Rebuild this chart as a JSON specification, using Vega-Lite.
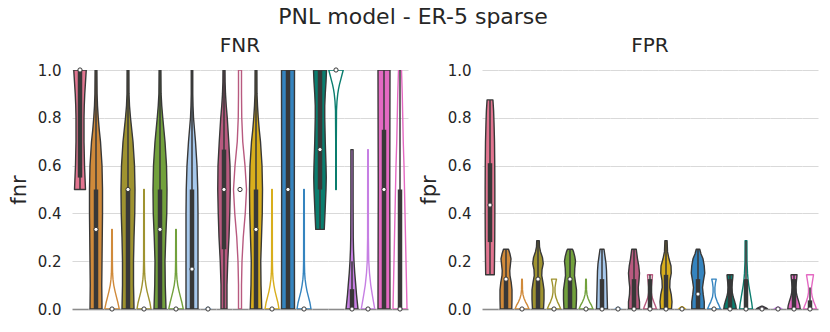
{
  "$schema": "https://vega.github.io/schema/vega-lite/v6.json",
  "padding": {"left": 8, "right": 5, "top": 6, "bottom": 5},
  "title": {"text": "PNL model - ER-5 sparse", "fontSize": 22, "fontWeight": "normal", "color": "#262626", "font": "DejaVu Sans", "offset": 7, "anchor": "middle"},
  "config": {"font": "DejaVu Sans", "view": {"stroke": null}},
  "spacing": 10,
  "datasets": {
    "d": [
      {"p":"FNR","s":"M00a","k":"z","v":-1,"w":1.6},{"p":"FNR","s":"M01a","k":"z","v":-1,"w":1.6},{"p":"FNR","s":"M01b","k":"z","v":-1,"w":1.6},{"p":"FNR","s":"M02a","k":"z","v":-1,"w":1.6},{"p":"FNR","s":"M02b","k":"z","v":-1,"w":1.6},{"p":"FNR","s":"M03a","k":"z","v":-1,"w":1.6},{"p":"FNR","s":"M03b","k":"z","v":-1,"w":1.6},{"p":"FNR","s":"M04a","k":"z","v":-1,"w":1.6},{"p":"FNR","s":"M04b","k":"z","v":-1,"w":1.6},{"p":"FNR","s":"M05a","k":"z","v":-1,"w":1.6},{"p":"FNR","s":"M05b","k":"z","v":-1,"w":1.6},{"p":"FNR","s":"M06a","k":"z","v":-1,"w":1.6},{"p":"FNR","s":"M06b","k":"z","v":-1,"w":1.6},{"p":"FNR","s":"M07a","k":"z","v":-1,"w":1.6},{"p":"FNR","s":"M07b","k":"z","v":-1,"w":1.6},{"p":"FNR","s":"M08a","k":"z","v":-1,"w":1.6},{"p":"FNR","s":"M08b","k":"z","v":-1,"w":1.6},{"p":"FNR","s":"M09a","k":"z","v":-1,"w":1.6},{"p":"FNR","s":"M09b","k":"z","v":-1,"w":1.6},{"p":"FNR","s":"M10a","k":"z","v":-1,"w":1.6},{"p":"FNR","s":"M10b","k":"z","v":-1,"w":1.6},
      {"p":"FPR","s":"M00a","k":"z","v":-1,"w":1.6},{"p":"FPR","s":"M01a","k":"z","v":-1,"w":1.6},{"p":"FPR","s":"M01b","k":"z","v":-1,"w":1.6},{"p":"FPR","s":"M02a","k":"z","v":-1,"w":1.6},{"p":"FPR","s":"M02b","k":"z","v":-1,"w":1.6},{"p":"FPR","s":"M03a","k":"z","v":-1,"w":1.6},{"p":"FPR","s":"M03b","k":"z","v":-1,"w":1.6},{"p":"FPR","s":"M04a","k":"z","v":-1,"w":1.6},{"p":"FPR","s":"M04b","k":"z","v":-1,"w":1.6},{"p":"FPR","s":"M05a","k":"z","v":-1,"w":1.6},{"p":"FPR","s":"M05b","k":"z","v":-1,"w":1.6},{"p":"FPR","s":"M06a","k":"z","v":-1,"w":1.6},{"p":"FPR","s":"M06b","k":"z","v":-1,"w":1.6},{"p":"FPR","s":"M07a","k":"z","v":-1,"w":1.6},{"p":"FPR","s":"M07b","k":"z","v":-1,"w":1.6},{"p":"FPR","s":"M08a","k":"z","v":-1,"w":1.6},{"p":"FPR","s":"M08b","k":"z","v":-1,"w":1.6},{"p":"FPR","s":"M09a","k":"z","v":-1,"w":1.6},{"p":"FPR","s":"M09b","k":"z","v":-1,"w":1.6},{"p":"FPR","s":"M10a","k":"z","v":-1,"w":1.6},{"p":"FPR","s":"M10b","k":"z","v":-1,"w":1.6},

      {"p":"FNR","s":"M00a","k":"a","v":0.5,"w":1.1},{"p":"FNR","s":"M00a","k":"a","v":0.55,"w":1.0},{"p":"FNR","s":"M00a","k":"a","v":0.6,"w":0.9},{"p":"FNR","s":"M00a","k":"a","v":0.65,"w":0.85},{"p":"FNR","s":"M00a","k":"a","v":0.7,"w":0.8},{"p":"FNR","s":"M00a","k":"a","v":0.75,"w":0.8},{"p":"FNR","s":"M00a","k":"a","v":0.8,"w":0.8},{"p":"FNR","s":"M00a","k":"a","v":0.85,"w":0.85},{"p":"FNR","s":"M00a","k":"a","v":0.9,"w":0.95},{"p":"FNR","s":"M00a","k":"a","v":0.95,"w":1.1},{"p":"FNR","s":"M00a","k":"a","v":1.0,"w":1.25},
      {"p":"FNR","s":"M01a","k":"a","v":0,"w":1.2},{"p":"FNR","s":"M01a","k":"a","v":0.1,"w":1.15},{"p":"FNR","s":"M01a","k":"a","v":0.2,"w":1.2},{"p":"FNR","s":"M01a","k":"a","v":0.3,"w":1.25},{"p":"FNR","s":"M01a","k":"a","v":0.4,"w":1.3},{"p":"FNR","s":"M01a","k":"a","v":0.5,"w":1.3},{"p":"FNR","s":"M01a","k":"a","v":0.6,"w":1.2},{"p":"FNR","s":"M01a","k":"a","v":0.7,"w":0.9},{"p":"FNR","s":"M01a","k":"a","v":0.75,"w":0.65},{"p":"FNR","s":"M01a","k":"a","v":0.8,"w":0.45},{"p":"FNR","s":"M01a","k":"a","v":0.85,"w":0.3},{"p":"FNR","s":"M01a","k":"a","v":0.9,"w":0.22},{"p":"FNR","s":"M01a","k":"a","v":1,"w":0.18},
      {"p":"FNR","s":"M01b","k":"b","v":0,"w":1.45},{"p":"FNR","s":"M01b","k":"b","v":0.025,"w":1.2},{"p":"FNR","s":"M01b","k":"b","v":0.05,"w":0.9},{"p":"FNR","s":"M01b","k":"b","v":0.075,"w":0.6},{"p":"FNR","s":"M01b","k":"b","v":0.1,"w":0.35},{"p":"FNR","s":"M01b","k":"b","v":0.125,"w":0.2},{"p":"FNR","s":"M01b","k":"b","v":0.15,"w":0.12},{"p":"FNR","s":"M01b","k":"b","v":0.2,"w":0.08},{"p":"FNR","s":"M01b","k":"b","v":0.333,"w":0.06},
      {"p":"FNR","s":"M02a","k":"a","v":0,"w":1.2},{"p":"FNR","s":"M02a","k":"a","v":0.1,"w":1.1},{"p":"FNR","s":"M02a","k":"a","v":0.2,"w":1.1},{"p":"FNR","s":"M02a","k":"a","v":0.3,"w":1.2},{"p":"FNR","s":"M02a","k":"a","v":0.4,"w":1.35},{"p":"FNR","s":"M02a","k":"a","v":0.5,"w":1.4},{"p":"FNR","s":"M02a","k":"a","v":0.6,"w":1.3},{"p":"FNR","s":"M02a","k":"a","v":0.7,"w":1.0},{"p":"FNR","s":"M02a","k":"a","v":0.75,"w":0.75},{"p":"FNR","s":"M02a","k":"a","v":0.8,"w":0.5},{"p":"FNR","s":"M02a","k":"a","v":0.85,"w":0.3},{"p":"FNR","s":"M02a","k":"a","v":0.9,"w":0.2},{"p":"FNR","s":"M02a","k":"a","v":1,"w":0.18},
      {"p":"FNR","s":"M02b","k":"b","v":0,"w":1.4},{"p":"FNR","s":"M02b","k":"b","v":0.025,"w":1.2},{"p":"FNR","s":"M02b","k":"b","v":0.05,"w":0.9},{"p":"FNR","s":"M02b","k":"b","v":0.075,"w":0.6},{"p":"FNR","s":"M02b","k":"b","v":0.1,"w":0.38},{"p":"FNR","s":"M02b","k":"b","v":0.125,"w":0.22},{"p":"FNR","s":"M02b","k":"b","v":0.15,"w":0.13},{"p":"FNR","s":"M02b","k":"b","v":0.2,"w":0.08},{"p":"FNR","s":"M02b","k":"b","v":0.5,"w":0.06},
      {"p":"FNR","s":"M03a","k":"a","v":0,"w":1.2},{"p":"FNR","s":"M03a","k":"a","v":0.1,"w":1.05},{"p":"FNR","s":"M03a","k":"a","v":0.2,"w":1.0},{"p":"FNR","s":"M03a","k":"a","v":0.3,"w":1.15},{"p":"FNR","s":"M03a","k":"a","v":0.4,"w":1.35},{"p":"FNR","s":"M03a","k":"a","v":0.5,"w":1.4},{"p":"FNR","s":"M03a","k":"a","v":0.6,"w":1.3},{"p":"FNR","s":"M03a","k":"a","v":0.7,"w":1.0},{"p":"FNR","s":"M03a","k":"a","v":0.8,"w":0.55},{"p":"FNR","s":"M03a","k":"a","v":0.85,"w":0.35},{"p":"FNR","s":"M03a","k":"a","v":0.9,"w":0.22},{"p":"FNR","s":"M03a","k":"a","v":1,"w":0.18},
      {"p":"FNR","s":"M03b","k":"b","v":0,"w":1.45},{"p":"FNR","s":"M03b","k":"b","v":0.025,"w":1.2},{"p":"FNR","s":"M03b","k":"b","v":0.05,"w":0.9},{"p":"FNR","s":"M03b","k":"b","v":0.075,"w":0.6},{"p":"FNR","s":"M03b","k":"b","v":0.1,"w":0.35},{"p":"FNR","s":"M03b","k":"b","v":0.125,"w":0.2},{"p":"FNR","s":"M03b","k":"b","v":0.15,"w":0.12},{"p":"FNR","s":"M03b","k":"b","v":0.2,"w":0.08},{"p":"FNR","s":"M03b","k":"b","v":0.333,"w":0.06},
      {"p":"FNR","s":"M04a","k":"a","v":0,"w":1.2},{"p":"FNR","s":"M04a","k":"a","v":0.1,"w":1.2},{"p":"FNR","s":"M04a","k":"a","v":0.2,"w":1.2},{"p":"FNR","s":"M04a","k":"a","v":0.3,"w":1.2},{"p":"FNR","s":"M04a","k":"a","v":0.4,"w":1.2},{"p":"FNR","s":"M04a","k":"a","v":0.5,"w":1.15},{"p":"FNR","s":"M04a","k":"a","v":0.6,"w":1.0},{"p":"FNR","s":"M04a","k":"a","v":0.7,"w":0.7},{"p":"FNR","s":"M04a","k":"a","v":0.75,"w":0.5},{"p":"FNR","s":"M04a","k":"a","v":0.8,"w":0.3},{"p":"FNR","s":"M04a","k":"a","v":0.85,"w":0.2},{"p":"FNR","s":"M04a","k":"a","v":0.9,"w":0.15},{"p":"FNR","s":"M04a","k":"a","v":1,"w":0.15},
      {"p":"FNR","s":"M04b","k":"b","v":0,"w":0.6},{"p":"FNR","s":"M04b","k":"b","v":0.004,"w":0.3},{"p":"FNR","s":"M04b","k":"b","v":0.008,"w":0.05},
      {"p":"FNR","s":"M05a","k":"a","v":0,"w":0.6},{"p":"FNR","s":"M05a","k":"a","v":0.1,"w":0.6},{"p":"FNR","s":"M05a","k":"a","v":0.2,"w":0.75},{"p":"FNR","s":"M05a","k":"a","v":0.3,"w":1.0},{"p":"FNR","s":"M05a","k":"a","v":0.4,"w":1.15},{"p":"FNR","s":"M05a","k":"a","v":0.5,"w":1.25},{"p":"FNR","s":"M05a","k":"a","v":0.6,"w":1.2},{"p":"FNR","s":"M05a","k":"a","v":0.7,"w":0.95},{"p":"FNR","s":"M05a","k":"a","v":0.8,"w":0.65},{"p":"FNR","s":"M05a","k":"a","v":0.85,"w":0.45},{"p":"FNR","s":"M05a","k":"a","v":0.9,"w":0.3},{"p":"FNR","s":"M05a","k":"a","v":0.95,"w":0.22},{"p":"FNR","s":"M05a","k":"a","v":1,"w":0.2},
      {"p":"FNR","s":"M05b","k":"b","v":0,"w":0.3},{"p":"FNR","s":"M05b","k":"b","v":0.1,"w":0.3},{"p":"FNR","s":"M05b","k":"b","v":0.2,"w":0.4},{"p":"FNR","s":"M05b","k":"b","v":0.3,"w":0.65},{"p":"FNR","s":"M05b","k":"b","v":0.4,"w":1.05},{"p":"FNR","s":"M05b","k":"b","v":0.5,"w":1.3},{"p":"FNR","s":"M05b","k":"b","v":0.6,"w":1.0},{"p":"FNR","s":"M05b","k":"b","v":0.7,"w":0.55},{"p":"FNR","s":"M05b","k":"b","v":0.8,"w":0.35},{"p":"FNR","s":"M05b","k":"b","v":0.9,"w":0.3},{"p":"FNR","s":"M05b","k":"b","v":1,"w":0.3},
      {"p":"FNR","s":"M06a","k":"a","v":0,"w":1.15},{"p":"FNR","s":"M06a","k":"a","v":0.1,"w":1.0},{"p":"FNR","s":"M06a","k":"a","v":0.2,"w":0.95},{"p":"FNR","s":"M06a","k":"a","v":0.3,"w":1.1},{"p":"FNR","s":"M06a","k":"a","v":0.4,"w":1.25},{"p":"FNR","s":"M06a","k":"a","v":0.5,"w":1.3},{"p":"FNR","s":"M06a","k":"a","v":0.6,"w":1.2},{"p":"FNR","s":"M06a","k":"a","v":0.7,"w":0.9},{"p":"FNR","s":"M06a","k":"a","v":0.75,"w":0.65},{"p":"FNR","s":"M06a","k":"a","v":0.8,"w":0.45},{"p":"FNR","s":"M06a","k":"a","v":0.85,"w":0.3},{"p":"FNR","s":"M06a","k":"a","v":0.9,"w":0.2},{"p":"FNR","s":"M06a","k":"a","v":1,"w":0.18},
      {"p":"FNR","s":"M06b","k":"b","v":0,"w":1.4},{"p":"FNR","s":"M06b","k":"b","v":0.025,"w":1.2},{"p":"FNR","s":"M06b","k":"b","v":0.05,"w":0.9},{"p":"FNR","s":"M06b","k":"b","v":0.075,"w":0.6},{"p":"FNR","s":"M06b","k":"b","v":0.1,"w":0.38},{"p":"FNR","s":"M06b","k":"b","v":0.125,"w":0.22},{"p":"FNR","s":"M06b","k":"b","v":0.15,"w":0.13},{"p":"FNR","s":"M06b","k":"b","v":0.2,"w":0.08},{"p":"FNR","s":"M06b","k":"b","v":0.5,"w":0.06},
      {"p":"FNR","s":"M07a","k":"a","v":0,"w":1.3},{"p":"FNR","s":"M07a","k":"a","v":0.25,"w":1.28},{"p":"FNR","s":"M07a","k":"a","v":0.5,"w":1.27},{"p":"FNR","s":"M07a","k":"a","v":0.75,"w":1.28},{"p":"FNR","s":"M07a","k":"a","v":1,"w":1.3},
      {"p":"FNR","s":"M07b","k":"b","v":0,"w":1.4},{"p":"FNR","s":"M07b","k":"b","v":0.025,"w":1.2},{"p":"FNR","s":"M07b","k":"b","v":0.05,"w":0.9},{"p":"FNR","s":"M07b","k":"b","v":0.075,"w":0.6},{"p":"FNR","s":"M07b","k":"b","v":0.1,"w":0.38},{"p":"FNR","s":"M07b","k":"b","v":0.125,"w":0.22},{"p":"FNR","s":"M07b","k":"b","v":0.15,"w":0.13},{"p":"FNR","s":"M07b","k":"b","v":0.2,"w":0.08},{"p":"FNR","s":"M07b","k":"b","v":0.5,"w":0.06},
      {"p":"FNR","s":"M08a","k":"a","v":0.333,"w":0.85},{"p":"FNR","s":"M08a","k":"a","v":0.4,"w":1.0},{"p":"FNR","s":"M08a","k":"a","v":0.5,"w":1.2},{"p":"FNR","s":"M08a","k":"a","v":0.55,"w":1.25},{"p":"FNR","s":"M08a","k":"a","v":0.6,"w":1.2},{"p":"FNR","s":"M08a","k":"a","v":0.7,"w":1.05},{"p":"FNR","s":"M08a","k":"a","v":0.8,"w":0.95},{"p":"FNR","s":"M08a","k":"a","v":0.85,"w":0.95},{"p":"FNR","s":"M08a","k":"a","v":0.9,"w":1.05},{"p":"FNR","s":"M08a","k":"a","v":0.95,"w":1.2},{"p":"FNR","s":"M08a","k":"a","v":1,"w":1.3},
      {"p":"FNR","s":"M08b","k":"b","v":0.5,"w":0.06},{"p":"FNR","s":"M08b","k":"b","v":0.7,"w":0.06},{"p":"FNR","s":"M08b","k":"b","v":0.83,"w":0.1},{"p":"FNR","s":"M08b","k":"b","v":0.87,"w":0.2},{"p":"FNR","s":"M08b","k":"b","v":0.9,"w":0.35},{"p":"FNR","s":"M08b","k":"b","v":0.92,"w":0.5},{"p":"FNR","s":"M08b","k":"b","v":0.94,"w":0.7},{"p":"FNR","s":"M08b","k":"b","v":0.96,"w":0.95},{"p":"FNR","s":"M08b","k":"b","v":0.98,"w":1.2},{"p":"FNR","s":"M08b","k":"b","v":1,"w":1.45},
      {"p":"FNR","s":"M09a","k":"a","v":0,"w":1.2},{"p":"FNR","s":"M09a","k":"a","v":0.03,"w":1.05},{"p":"FNR","s":"M09a","k":"a","v":0.06,"w":0.9},{"p":"FNR","s":"M09a","k":"a","v":0.1,"w":0.75},{"p":"FNR","s":"M09a","k":"a","v":0.15,"w":0.55},{"p":"FNR","s":"M09a","k":"a","v":0.2,"w":0.4},{"p":"FNR","s":"M09a","k":"a","v":0.25,"w":0.3},{"p":"FNR","s":"M09a","k":"a","v":0.3,"w":0.25},{"p":"FNR","s":"M09a","k":"a","v":0.45,"w":0.22},{"p":"FNR","s":"M09a","k":"a","v":0.667,"w":0.22},
      {"p":"FNR","s":"M09b","k":"b","v":0,"w":1.35},{"p":"FNR","s":"M09b","k":"b","v":0.03,"w":1.1},{"p":"FNR","s":"M09b","k":"b","v":0.06,"w":0.85},{"p":"FNR","s":"M09b","k":"b","v":0.1,"w":0.55},{"p":"FNR","s":"M09b","k":"b","v":0.15,"w":0.3},{"p":"FNR","s":"M09b","k":"b","v":0.2,"w":0.15},{"p":"FNR","s":"M09b","k":"b","v":0.3,"w":0.08},{"p":"FNR","s":"M09b","k":"b","v":0.667,"w":0.06},
      {"p":"FNR","s":"M10a","k":"a","v":0,"w":1.2},{"p":"FNR","s":"M10a","k":"a","v":0.5,"w":1.15},{"p":"FNR","s":"M10a","k":"a","v":1,"w":1.2},
      {"p":"FNR","s":"M10b","k":"b","v":0,"w":1.4},{"p":"FNR","s":"M10b","k":"b","v":0.1,"w":1.3},{"p":"FNR","s":"M10b","k":"b","v":0.2,"w":1.2},{"p":"FNR","s":"M10b","k":"b","v":0.3,"w":1.1},{"p":"FNR","s":"M10b","k":"b","v":0.4,"w":1.0},{"p":"FNR","s":"M10b","k":"b","v":0.5,"w":0.9},{"p":"FNR","s":"M10b","k":"b","v":0.6,"w":0.8},{"p":"FNR","s":"M10b","k":"b","v":0.7,"w":0.65},{"p":"FNR","s":"M10b","k":"b","v":0.8,"w":0.55},{"p":"FNR","s":"M10b","k":"b","v":0.9,"w":0.45},{"p":"FNR","s":"M10b","k":"b","v":1,"w":0.3},

      {"p":"FNR","s":"M00a","k":"a","lo":0.5,"q1":0.55,"med":1.0,"q3":1.0,"hi":1.0},
      {"p":"FNR","s":"M01a","k":"a","lo":0,"q1":0,"med":0.333,"q3":0.5,"hi":1},
      {"p":"FNR","s":"M01b","k":"b","lo":0,"q1":0,"med":0,"q3":0,"hi":0},
      {"p":"FNR","s":"M02a","k":"a","lo":0,"q1":0,"med":0.5,"q3":0.5,"hi":1},
      {"p":"FNR","s":"M02b","k":"b","lo":0,"q1":0,"med":0,"q3":0,"hi":0},
      {"p":"FNR","s":"M03a","k":"a","lo":0,"q1":0,"med":0.333,"q3":0.5,"hi":1},
      {"p":"FNR","s":"M03b","k":"b","lo":0,"q1":0,"med":0,"q3":0,"hi":0},
      {"p":"FNR","s":"M04a","k":"a","lo":0,"q1":0,"med":0.167,"q3":0.5,"hi":1},
      {"p":"FNR","s":"M04b","k":"b","lo":0,"q1":0,"med":0,"q3":0,"hi":0},
      {"p":"FNR","s":"M05a","k":"a","lo":0,"q1":0.25,"med":0.5,"q3":0.667,"hi":1},
      {"p":"FNR","s":"M05b","k":"b","lo":0.5,"q1":0.5,"med":0.5,"q3":0.5,"hi":0.5},
      {"p":"FNR","s":"M06a","k":"a","lo":0,"q1":0,"med":0.333,"q3":0.5,"hi":1},
      {"p":"FNR","s":"M06b","k":"b","lo":0,"q1":0,"med":0,"q3":0,"hi":0},
      {"p":"FNR","s":"M07a","k":"a","lo":0,"q1":0,"med":0.5,"q3":1,"hi":1},
      {"p":"FNR","s":"M07b","k":"b","lo":0,"q1":0,"med":0,"q3":0,"hi":0},
      {"p":"FNR","s":"M08a","k":"a","lo":0.333,"q1":0.5,"med":0.667,"q3":1,"hi":1},
      {"p":"FNR","s":"M08b","k":"b","lo":1,"q1":1,"med":1,"q3":1,"hi":1},
      {"p":"FNR","s":"M09a","k":"a","lo":0,"q1":0,"med":0,"q3":0.083,"hi":0.2},
      {"p":"FNR","s":"M09b","k":"b","lo":0,"q1":0,"med":0,"q3":0,"hi":0},
      {"p":"FNR","s":"M10a","k":"a","lo":0,"q1":0,"med":0.5,"q3":0.75,"hi":1},
      {"p":"FNR","s":"M10b","k":"b","lo":0,"q1":0,"med":0,"q3":0.5,"hi":1},

      {"p":"FPR","s":"M00a","k":"a","v":0.143,"w":0.86},{"p":"FPR","s":"M00a","k":"a","v":0.2,"w":0.9},{"p":"FPR","s":"M00a","k":"a","v":0.3,"w":0.95},{"p":"FPR","s":"M00a","k":"a","v":0.4,"w":0.97},{"p":"FPR","s":"M00a","k":"a","v":0.5,"w":0.97},{"p":"FPR","s":"M00a","k":"a","v":0.6,"w":0.95},{"p":"FPR","s":"M00a","k":"a","v":0.7,"w":0.9},{"p":"FPR","s":"M00a","k":"a","v":0.78,"w":0.8},{"p":"FPR","s":"M00a","k":"a","v":0.83,"w":0.72},{"p":"FPR","s":"M00a","k":"a","v":0.86,"w":0.63},{"p":"FPR","s":"M00a","k":"a","v":0.875,"w":0.58},
      {"p":"FPR","s":"M01a","k":"a","v":0,"w":1.15},{"p":"FPR","s":"M01a","k":"a","v":0.04,"w":1.2},{"p":"FPR","s":"M01a","k":"a","v":0.08,"w":1.2},{"p":"FPR","s":"M01a","k":"a","v":0.11,"w":1.05},{"p":"FPR","s":"M01a","k":"a","v":0.14,"w":0.8},{"p":"FPR","s":"M01a","k":"a","v":0.16,"w":0.75},{"p":"FPR","s":"M01a","k":"a","v":0.19,"w":0.9},{"p":"FPR","s":"M01a","k":"a","v":0.21,"w":1.0},{"p":"FPR","s":"M01a","k":"a","v":0.23,"w":0.8},{"p":"FPR","s":"M01a","k":"a","v":0.25,"w":0.5},
      {"p":"FPR","s":"M01b","k":"b","v":0,"w":1.4},{"p":"FPR","s":"M01b","k":"b","v":0.015,"w":1.1},{"p":"FPR","s":"M01b","k":"b","v":0.03,"w":0.7},{"p":"FPR","s":"M01b","k":"b","v":0.045,"w":0.4},{"p":"FPR","s":"M01b","k":"b","v":0.06,"w":0.2},{"p":"FPR","s":"M01b","k":"b","v":0.08,"w":0.1},{"p":"FPR","s":"M01b","k":"b","v":0.125,"w":0.06},
      {"p":"FPR","s":"M02a","k":"a","v":0,"w":1.1},{"p":"FPR","s":"M02a","k":"a","v":0.04,"w":1.2},{"p":"FPR","s":"M02a","k":"a","v":0.08,"w":1.2},{"p":"FPR","s":"M02a","k":"a","v":0.11,"w":1.0},{"p":"FPR","s":"M02a","k":"a","v":0.14,"w":0.75},{"p":"FPR","s":"M02a","k":"a","v":0.165,"w":0.8},{"p":"FPR","s":"M02a","k":"a","v":0.19,"w":1.05},{"p":"FPR","s":"M02a","k":"a","v":0.215,"w":0.9},{"p":"FPR","s":"M02a","k":"a","v":0.24,"w":0.5},{"p":"FPR","s":"M02a","k":"a","v":0.26,"w":0.3},{"p":"FPR","s":"M02a","k":"a","v":0.286,"w":0.25},
      {"p":"FPR","s":"M02b","k":"b","v":0,"w":1.35},{"p":"FPR","s":"M02b","k":"b","v":0.015,"w":1.05},{"p":"FPR","s":"M02b","k":"b","v":0.03,"w":0.7},{"p":"FPR","s":"M02b","k":"b","v":0.05,"w":0.35},{"p":"FPR","s":"M02b","k":"b","v":0.07,"w":0.2},{"p":"FPR","s":"M02b","k":"b","v":0.09,"w":0.2},{"p":"FPR","s":"M02b","k":"b","v":0.11,"w":0.35},{"p":"FPR","s":"M02b","k":"b","v":0.125,"w":0.5},
      {"p":"FPR","s":"M03a","k":"a","v":0,"w":1.2},{"p":"FPR","s":"M03a","k":"a","v":0.04,"w":1.3},{"p":"FPR","s":"M03a","k":"a","v":0.08,"w":1.3},{"p":"FPR","s":"M03a","k":"a","v":0.11,"w":1.1},{"p":"FPR","s":"M03a","k":"a","v":0.14,"w":0.9},{"p":"FPR","s":"M03a","k":"a","v":0.17,"w":0.95},{"p":"FPR","s":"M03a","k":"a","v":0.2,"w":1.1},{"p":"FPR","s":"M03a","k":"a","v":0.22,"w":0.95},{"p":"FPR","s":"M03a","k":"a","v":0.24,"w":0.7},{"p":"FPR","s":"M03a","k":"a","v":0.25,"w":0.5},
      {"p":"FPR","s":"M03b","k":"b","v":0,"w":1.4},{"p":"FPR","s":"M03b","k":"b","v":0.015,"w":1.1},{"p":"FPR","s":"M03b","k":"b","v":0.03,"w":0.7},{"p":"FPR","s":"M03b","k":"b","v":0.045,"w":0.4},{"p":"FPR","s":"M03b","k":"b","v":0.06,"w":0.2},{"p":"FPR","s":"M03b","k":"b","v":0.08,"w":0.1},{"p":"FPR","s":"M03b","k":"b","v":0.125,"w":0.06},
      {"p":"FPR","s":"M04a","k":"a","v":0,"w":1.1},{"p":"FPR","s":"M04a","k":"a","v":0.04,"w":1.05},{"p":"FPR","s":"M04a","k":"a","v":0.08,"w":1.0},{"p":"FPR","s":"M04a","k":"a","v":0.12,"w":0.95},{"p":"FPR","s":"M04a","k":"a","v":0.16,"w":0.9},{"p":"FPR","s":"M04a","k":"a","v":0.19,"w":0.8},{"p":"FPR","s":"M04a","k":"a","v":0.22,"w":0.6},{"p":"FPR","s":"M04a","k":"a","v":0.25,"w":0.4},
      {"p":"FPR","s":"M04b","k":"b","v":0,"w":0.7},{"p":"FPR","s":"M04b","k":"b","v":0.004,"w":0.4},{"p":"FPR","s":"M04b","k":"b","v":0.008,"w":0.05},
      {"p":"FPR","s":"M05a","k":"a","v":0,"w":1.1},{"p":"FPR","s":"M05a","k":"a","v":0.03,"w":1.1},{"p":"FPR","s":"M05a","k":"a","v":0.06,"w":0.9},{"p":"FPR","s":"M05a","k":"a","v":0.09,"w":0.85},{"p":"FPR","s":"M05a","k":"a","v":0.12,"w":1.0},{"p":"FPR","s":"M05a","k":"a","v":0.15,"w":1.1},{"p":"FPR","s":"M05a","k":"a","v":0.18,"w":0.95},{"p":"FPR","s":"M05a","k":"a","v":0.21,"w":0.7},{"p":"FPR","s":"M05a","k":"a","v":0.25,"w":0.45},
      {"p":"FPR","s":"M05b","k":"b","v":0,"w":1.3},{"p":"FPR","s":"M05b","k":"b","v":0.015,"w":1.05},{"p":"FPR","s":"M05b","k":"b","v":0.03,"w":0.75},{"p":"FPR","s":"M05b","k":"b","v":0.05,"w":0.4},{"p":"FPR","s":"M05b","k":"b","v":0.07,"w":0.25},{"p":"FPR","s":"M05b","k":"b","v":0.09,"w":0.25},{"p":"FPR","s":"M05b","k":"b","v":0.11,"w":0.35},{"p":"FPR","s":"M05b","k":"b","v":0.13,"w":0.45},{"p":"FPR","s":"M05b","k":"b","v":0.143,"w":0.5},
      {"p":"FPR","s":"M06a","k":"a","v":0,"w":1.1},{"p":"FPR","s":"M06a","k":"a","v":0.03,"w":1.2},{"p":"FPR","s":"M06a","k":"a","v":0.06,"w":1.05},{"p":"FPR","s":"M06a","k":"a","v":0.09,"w":0.75},{"p":"FPR","s":"M06a","k":"a","v":0.12,"w":0.8},{"p":"FPR","s":"M06a","k":"a","v":0.15,"w":1.05},{"p":"FPR","s":"M06a","k":"a","v":0.18,"w":1.0},{"p":"FPR","s":"M06a","k":"a","v":0.21,"w":0.6},{"p":"FPR","s":"M06a","k":"a","v":0.24,"w":0.3},{"p":"FPR","s":"M06a","k":"a","v":0.286,"w":0.22},
      {"p":"FPR","s":"M06b","k":"b","v":0,"w":0.7},{"p":"FPR","s":"M06b","k":"b","v":0.005,"w":0.4},{"p":"FPR","s":"M06b","k":"b","v":0.01,"w":0.05},
      {"p":"FPR","s":"M07a","k":"a","v":0,"w":1.25},{"p":"FPR","s":"M07a","k":"a","v":0.03,"w":1.25},{"p":"FPR","s":"M07a","k":"a","v":0.06,"w":1.05},{"p":"FPR","s":"M07a","k":"a","v":0.09,"w":0.9},{"p":"FPR","s":"M07a","k":"a","v":0.12,"w":1.1},{"p":"FPR","s":"M07a","k":"a","v":0.15,"w":1.35},{"p":"FPR","s":"M07a","k":"a","v":0.18,"w":1.25},{"p":"FPR","s":"M07a","k":"a","v":0.21,"w":1.0},{"p":"FPR","s":"M07a","k":"a","v":0.23,"w":0.6},{"p":"FPR","s":"M07a","k":"a","v":0.25,"w":0.35},
      {"p":"FPR","s":"M07b","k":"b","v":0,"w":1.3},{"p":"FPR","s":"M07b","k":"b","v":0.015,"w":1.0},{"p":"FPR","s":"M07b","k":"b","v":0.03,"w":0.65},{"p":"FPR","s":"M07b","k":"b","v":0.05,"w":0.3},{"p":"FPR","s":"M07b","k":"b","v":0.07,"w":0.18},{"p":"FPR","s":"M07b","k":"b","v":0.09,"w":0.18},{"p":"FPR","s":"M07b","k":"b","v":0.11,"w":0.3},{"p":"FPR","s":"M07b","k":"b","v":0.125,"w":0.45},
      {"p":"FPR","s":"M08a","k":"a","v":0,"w":1.25},{"p":"FPR","s":"M08a","k":"a","v":0.015,"w":1.15},{"p":"FPR","s":"M08a","k":"a","v":0.03,"w":0.95},{"p":"FPR","s":"M08a","k":"a","v":0.05,"w":0.65},{"p":"FPR","s":"M08a","k":"a","v":0.07,"w":0.45},{"p":"FPR","s":"M08a","k":"a","v":0.09,"w":0.4},{"p":"FPR","s":"M08a","k":"a","v":0.11,"w":0.45},{"p":"FPR","s":"M08a","k":"a","v":0.13,"w":0.55},{"p":"FPR","s":"M08a","k":"a","v":0.143,"w":0.6},
      {"p":"FPR","s":"M08b","k":"b","v":0,"w":1.3},{"p":"FPR","s":"M08b","k":"b","v":0.025,"w":1.15},{"p":"FPR","s":"M08b","k":"b","v":0.05,"w":0.95},{"p":"FPR","s":"M08b","k":"b","v":0.075,"w":0.75},{"p":"FPR","s":"M08b","k":"b","v":0.1,"w":0.55},{"p":"FPR","s":"M08b","k":"b","v":0.125,"w":0.4},{"p":"FPR","s":"M08b","k":"b","v":0.15,"w":0.3},{"p":"FPR","s":"M08b","k":"b","v":0.2,"w":0.2},{"p":"FPR","s":"M08b","k":"b","v":0.286,"w":0.18},
      {"p":"FPR","s":"M09a","k":"a","v":0,"w":1.1},{"p":"FPR","s":"M09a","k":"a","v":0.004,"w":0.9},{"p":"FPR","s":"M09a","k":"a","v":0.008,"w":0.5},{"p":"FPR","s":"M09a","k":"a","v":0.012,"w":0.1},
      {"p":"FPR","s":"M09b","k":"b","v":0,"w":0.8},{"p":"FPR","s":"M09b","k":"b","v":0.004,"w":0.5},{"p":"FPR","s":"M09b","k":"b","v":0.008,"w":0.1},
      {"p":"FPR","s":"M10a","k":"a","v":0,"w":1.25},{"p":"FPR","s":"M10a","k":"a","v":0.015,"w":1.15},{"p":"FPR","s":"M10a","k":"a","v":0.03,"w":0.95},{"p":"FPR","s":"M10a","k":"a","v":0.05,"w":0.65},{"p":"FPR","s":"M10a","k":"a","v":0.07,"w":0.45},{"p":"FPR","s":"M10a","k":"a","v":0.09,"w":0.4},{"p":"FPR","s":"M10a","k":"a","v":0.11,"w":0.45},{"p":"FPR","s":"M10a","k":"a","v":0.13,"w":0.55},{"p":"FPR","s":"M10a","k":"a","v":0.143,"w":0.6},
      {"p":"FPR","s":"M10b","k":"b","v":0,"w":1.3},{"p":"FPR","s":"M10b","k":"b","v":0.015,"w":1.05},{"p":"FPR","s":"M10b","k":"b","v":0.03,"w":0.75},{"p":"FPR","s":"M10b","k":"b","v":0.05,"w":0.45},{"p":"FPR","s":"M10b","k":"b","v":0.07,"w":0.3},{"p":"FPR","s":"M10b","k":"b","v":0.09,"w":0.3},{"p":"FPR","s":"M10b","k":"b","v":0.11,"w":0.45},{"p":"FPR","s":"M10b","k":"b","v":0.13,"w":0.6},{"p":"FPR","s":"M10b","k":"b","v":0.143,"w":0.7},

      {"p":"FPR","s":"M00a","k":"a","lo":0.143,"q1":0.28,"med":0.435,"q3":0.61,"hi":0.875},
      {"p":"FPR","s":"M01a","k":"a","lo":0,"q1":0,"med":0.125,"q3":0.125,"hi":0.25},
      {"p":"FPR","s":"M01b","k":"b","lo":0,"q1":0,"med":0,"q3":0,"hi":0},
      {"p":"FPR","s":"M02a","k":"a","lo":0,"q1":0,"med":0.125,"q3":0.125,"hi":0.286},
      {"p":"FPR","s":"M02b","k":"b","lo":0,"q1":0,"med":0,"q3":0,"hi":0},
      {"p":"FPR","s":"M03a","k":"a","lo":0,"q1":0,"med":0.125,"q3":0.125,"hi":0.25},
      {"p":"FPR","s":"M03b","k":"b","lo":0,"q1":0,"med":0,"q3":0,"hi":0},
      {"p":"FPR","s":"M04a","k":"a","lo":0,"q1":0,"med":0,"q3":0.125,"hi":0.25},
      {"p":"FPR","s":"M04b","k":"b","lo":0,"q1":0,"med":0,"q3":0,"hi":0},
      {"p":"FPR","s":"M05a","k":"a","lo":0,"q1":0,"med":0,"q3":0.125,"hi":0.25},
      {"p":"FPR","s":"M05b","k":"b","lo":0,"q1":0,"med":0,"q3":0.125,"hi":0.143},
      {"p":"FPR","s":"M06a","k":"a","lo":0,"q1":0,"med":0,"q3":0.143,"hi":0.286},
      {"p":"FPR","s":"M06b","k":"b","lo":0,"q1":0,"med":0,"q3":0,"hi":0},
      {"p":"FPR","s":"M07a","k":"a","lo":0,"q1":0,"med":0.0625,"q3":0.125,"hi":0.25},
      {"p":"FPR","s":"M07b","k":"b","lo":0,"q1":0,"med":0,"q3":0,"hi":0},
      {"p":"FPR","s":"M08a","k":"a","lo":0,"q1":0,"med":0,"q3":0.125,"hi":0.143},
      {"p":"FPR","s":"M08b","k":"b","lo":0,"q1":0,"med":0,"q3":0.125,"hi":0.286},
      {"p":"FPR","s":"M09a","k":"a","lo":0,"q1":0,"med":0,"q3":0,"hi":0},
      {"p":"FPR","s":"M09b","k":"b","lo":0,"q1":0,"med":0,"q3":0,"hi":0},
      {"p":"FPR","s":"M10a","k":"a","lo":0,"q1":0,"med":0,"q3":0.125,"hi":0.143},
      {"p":"FPR","s":"M10b","k":"b","lo":0,"q1":0,"med":0,"q3":0.036,"hi":0.09}
    ]
  },
  "hconcat": [
    {
      "data": {"name": "d"},
      "transform": [{"filter": "datum.p === 'FNR'"}],
      "facet": {"column": {"field": "s", "type": "nominal", "title": "FNR", "header": {"labels": false, "titleFontSize": 20, "titleFontWeight": "normal", "titleColor": "#262626", "titlePadding": 4, "titleFont": "DejaVu Sans"}}},
      "spacing": 0,
      "bounds": "flush",
      "spec": {
        "width": 16,
        "height": 239,
        "layer": [
          {
            "transform": [{"filter": "isValid(datum.w)"}],
            "mark": {"type": "area", "orient": "horizontal", "strokeWidth": 1.4, "strokeJoin": "round", "clip": true},
            "encoding": {
              "y": {"field": "v", "type": "quantitative", "title": "fnr", "scale": {"domain": [0, 1], "nice": false}, "axis": {"values": [0, 0.2, 0.4, 0.6, 0.8, 1.0], "format": ".1f", "labelFontSize": 15, "labelColor": "#262626", "titleFontSize": 21, "titleFontWeight": "normal", "titleColor": "#262626", "ticks": false, "domain": false, "gridColor": {"condition": {"test": "datum.value === 0", "value": "#8c8c8c"}, "value": "#d9d9d9"}, "gridWidth": {"condition": {"test": "datum.value === 0", "value": 1.6}, "value": 1}, "labelPadding": 11, "titlePadding": 8}},
              "x": {"field": "w", "type": "quantitative", "stack": "center", "impute": null, "title": null, "scale": {"domain": [0, 1.6]}, "axis": null},
              "detail": {"field": "k", "type": "nominal"},
              "fill": {"condition": {"test": "datum.k === 'b'", "value": "transparent"}, "field": "s", "type": "nominal", "legend": null, "scale": {"domain": ["M00a","M01a","M01b","M02a","M02b","M03a","M03b","M04a","M04b","M05a","M05b","M06a","M06b","M07a","M07b","M08a","M08b","M09a","M09b","M10a","M10b"], "range": ["#e27590","#d08a3a","#d08a3a","#9f9330","#9f9330","#72a13c","#72a13c","#a6c8ec","#a6c8ec","#b85a7f","#b85a7f","#d8ae1c","#d8ae1c","#3584bf","#3584bf","#0a7d6e","#0a7d6e","#c67fe3","#c67fe3","#e469c2","#e469c2"]}},
              "stroke": {"condition": {"test": "datum.k === 'a'", "value": "#383838"}, "field": "s", "type": "nominal", "legend": null, "scale": {"domain": ["M00a","M01a","M01b","M02a","M02b","M03a","M03b","M04a","M04b","M05a","M05b","M06a","M06b","M07a","M07b","M08a","M08b","M09a","M09b","M10a","M10b"], "range": ["#e27590","#d08a3a","#d08a3a","#9f9330","#9f9330","#72a13c","#72a13c","#a6c8ec","#a6c8ec","#b85a7f","#b85a7f","#d8ae1c","#d8ae1c","#3584bf","#3584bf","#0a7d6e","#0a7d6e","#c67fe3","#c67fe3","#e469c2","#e469c2"]}}
            }
          },
          {
            "transform": [{"filter": "isValid(datum.med)"}],
            "mark": {"type": "rule", "color": "#383838", "strokeWidth": 1.5},
            "encoding": {"x": {"datum": 0.8, "type": "quantitative", "title": null}, "y": {"field": "lo", "type": "quantitative", "title": "fnr"}, "y2": {"field": "hi"}}
          },
          {
            "transform": [{"filter": "isValid(datum.med)"}],
            "mark": {"type": "rule", "color": "#383838", "strokeWidth": 4.5},
            "encoding": {"x": {"datum": 0.8, "type": "quantitative", "title": null}, "y": {"field": "q1", "type": "quantitative", "title": "fnr"}, "y2": {"field": "q3"}}
          },
          {
            "transform": [{"filter": "isValid(datum.med)"}],
            "mark": {"type": "point", "filled": true, "fill": "white", "stroke": "#383838", "strokeWidth": 1, "size": 18, "opacity": 1},
            "encoding": {"x": {"datum": 0.8, "type": "quantitative", "title": null}, "y": {"field": "med", "type": "quantitative", "title": "fnr"}}
          }
        ]
      }
    },
    {
      "data": {"name": "d"},
      "transform": [{"filter": "datum.p === 'FPR'"}],
      "facet": {"column": {"field": "s", "type": "nominal", "title": "FPR", "header": {"labels": false, "titleFontSize": 20, "titleFontWeight": "normal", "titleColor": "#262626", "titlePadding": 4, "titleFont": "DejaVu Sans"}}},
      "spacing": 0,
      "bounds": "flush",
      "spec": {
        "width": 16,
        "height": 239,
        "layer": [
          {
            "transform": [{"filter": "isValid(datum.w)"}],
            "mark": {"type": "area", "orient": "horizontal", "strokeWidth": 1.4, "strokeJoin": "round", "clip": true},
            "encoding": {
              "y": {"field": "v", "type": "quantitative", "title": "fpr", "scale": {"domain": [0, 1], "nice": false}, "axis": {"values": [0, 0.2, 0.4, 0.6, 0.8, 1.0], "format": ".1f", "labelFontSize": 15, "labelColor": "#262626", "titleFontSize": 21, "titleFontWeight": "normal", "titleColor": "#262626", "ticks": false, "domain": false, "gridColor": {"condition": {"test": "datum.value === 0", "value": "#8c8c8c"}, "value": "#d9d9d9"}, "gridWidth": {"condition": {"test": "datum.value === 0", "value": 1.6}, "value": 1}, "labelPadding": 11, "titlePadding": 8}},
              "x": {"field": "w", "type": "quantitative", "stack": "center", "impute": null, "title": null, "scale": {"domain": [0, 1.6]}, "axis": null},
              "detail": {"field": "k", "type": "nominal"},
              "fill": {"condition": {"test": "datum.k === 'b'", "value": "transparent"}, "field": "s", "type": "nominal", "legend": null, "scale": {"domain": ["M00a","M01a","M01b","M02a","M02b","M03a","M03b","M04a","M04b","M05a","M05b","M06a","M06b","M07a","M07b","M08a","M08b","M09a","M09b","M10a","M10b"], "range": ["#e27590","#d08a3a","#d08a3a","#9f9330","#9f9330","#72a13c","#72a13c","#a6c8ec","#a6c8ec","#b85a7f","#b85a7f","#d8ae1c","#d8ae1c","#3584bf","#3584bf","#0a7d6e","#0a7d6e","#c67fe3","#c67fe3","#e469c2","#e469c2"]}},
              "stroke": {"condition": {"test": "datum.k === 'a'", "value": "#383838"}, "field": "s", "type": "nominal", "legend": null, "scale": {"domain": ["M00a","M01a","M01b","M02a","M02b","M03a","M03b","M04a","M04b","M05a","M05b","M06a","M06b","M07a","M07b","M08a","M08b","M09a","M09b","M10a","M10b"], "range": ["#e27590","#d08a3a","#d08a3a","#9f9330","#9f9330","#72a13c","#72a13c","#a6c8ec","#a6c8ec","#b85a7f","#b85a7f","#d8ae1c","#d8ae1c","#3584bf","#3584bf","#0a7d6e","#0a7d6e","#c67fe3","#c67fe3","#e469c2","#e469c2"]}}
            }
          },
          {
            "transform": [{"filter": "isValid(datum.med)"}],
            "mark": {"type": "rule", "color": "#383838", "strokeWidth": 1.5},
            "encoding": {"x": {"datum": 0.8, "type": "quantitative", "title": null}, "y": {"field": "lo", "type": "quantitative", "title": "fpr"}, "y2": {"field": "hi"}}
          },
          {
            "transform": [{"filter": "isValid(datum.med)"}],
            "mark": {"type": "rule", "color": "#383838", "strokeWidth": 4.5},
            "encoding": {"x": {"datum": 0.8, "type": "quantitative", "title": null}, "y": {"field": "q1", "type": "quantitative", "title": "fpr"}, "y2": {"field": "q3"}}
          },
          {
            "transform": [{"filter": "isValid(datum.med)"}],
            "mark": {"type": "point", "filled": true, "fill": "white", "stroke": "#383838", "strokeWidth": 1, "size": 18, "opacity": 1},
            "encoding": {"x": {"datum": 0.8, "type": "quantitative", "title": null}, "y": {"field": "med", "type": "quantitative", "title": "fpr"}}
          }
        ]
      }
    }
  ]
}
